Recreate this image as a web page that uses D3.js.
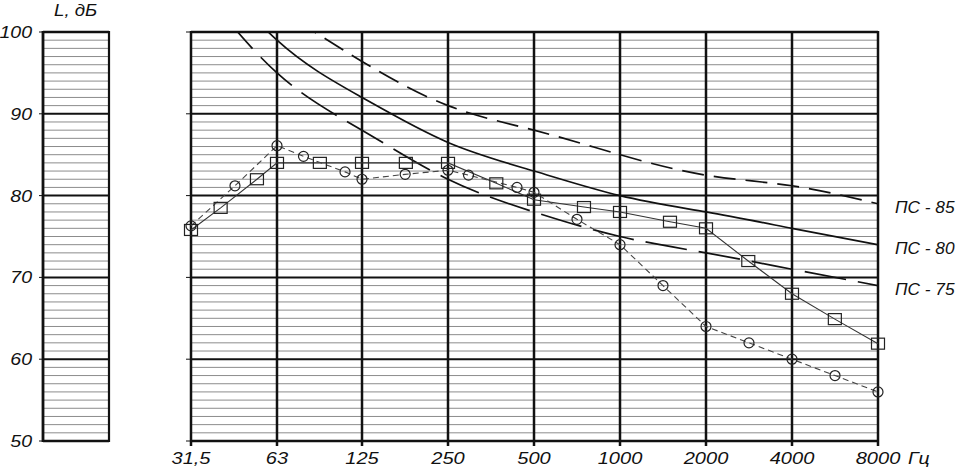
<!DOCTYPE html>
<html><head><meta charset="utf-8">
<script src="https://cdn.jsdelivr.net/npm/d3@7"></script>
<style>
html,body{margin:0;padding:0;background:#fff;}
text{font-family:"Liberation Sans",Arial,sans-serif;font-style:italic;fill:#111;}
</style></head>
<body><svg id="c" width="958" height="468"></svg>
<script>
// ---- data ----
const bandLabels = ["31,5","63","125","250","500","1000","2000","4000","8000"];
const bandFreqs  = [31.5, 63, 125, 250, 500, 1000, 2000, 4000, 8000];
const yTicks = [50, 60, 70, 80, 90, 100];

const ps75 = [107, 95, 88, 82, 78, 75, 73, 71, 69];
const ps80 = [111, 99, 92, 86.5, 83, 80, 78, 76, 74];
const ps85 = [110, 103, 96.4, 91, 88, 85, 82.5, 81.2, 79];

const squareFreqs = [31.5, 40, 53.6, 63, 89, 125, 178, 250, 369, 500, 748, 1000, 1496, 2000, 2812, 4000, 5650, 8000];
const squareVals  = [75.8, 78.5, 82, 84, 84, 84, 84, 84, 81.5, 79.5, 78.6, 78, 76.8, 76, 72, 68, 64.9, 61.9];

const circleFreqs = [31.5, 44.9, 63, 78, 109, 125, 177, 250, 295, 436, 500, 707, 1000, 1414, 2000, 2828, 4000, 5657, 8000];
const circleVals  = [76.3, 81.2, 86.1, 84.8, 82.9, 82, 82.6, 83.1, 82.5, 81, 80.4, 77.1, 74, 69, 64, 62, 60, 58, 56];

const psLabels = ["ПС - 85", "ПС - 80", "ПС - 75"];

// ---- layout ----
const svg = d3.select("#c");
const X0 = 191, X1 = 878, Y0 = 32, Y1 = 441;
const LX0 = 43, LX1 = 109;
const x = d3.scaleLog().base(2).domain([31.5, 8000]).range([X0, X1]);
const y = d3.scaleLinear().domain([50, 100]).range([Y1, Y0]);
const minor = d3.range(51, 100).filter(v => v % 10 !== 0);

function label(px, py, txt, size, anchor, sx) {
  return svg.append("text")
    .attr("transform", `translate(${px},${py}) scale(${sx},1)`)
    .attr("text-anchor", anchor).attr("font-size", size).text(txt);
}

function hgrid(xa, xb) {
  const g = svg.append("g");
  g.selectAll("line.mn").data(minor).join("line")
    .attr("x1", xa).attr("x2", xb).attr("y1", d => y(d)).attr("y2", d => y(d))
    .attr("stroke", "#8c8c8c").attr("stroke-width", 1);
  g.selectAll("line.mj").data(yTicks).join("line")
    .attr("x1", xa).attr("x2", xb).attr("y1", d => y(d)).attr("y2", d => y(d))
    .attr("stroke", "#111").attr("stroke-width", d => (d === 50 || d === 100) ? 2.5 : 2);
}
// left panel
hgrid(LX0, LX1);
svg.append("line").attr("x1", LX0).attr("x2", LX0).attr("y1", Y0 - 1).attr("y2", Y1 + 1).attr("stroke", "#111").attr("stroke-width", 2.8);
svg.append("line").attr("x1", LX1).attr("x2", LX1).attr("y1", Y0 - 1).attr("y2", Y1 + 1).attr("stroke", "#111").attr("stroke-width", 2.2);
svg.append("g").selectAll("line").data(yTicks).join("line")
  .attr("x1", LX0 - 4).attr("x2", LX0).attr("y1", d => y(d)).attr("y2", d => y(d))
  .attr("stroke", "#111").attr("stroke-width", 1);
yTicks.forEach(v => label(32, y(v) + 6, v, 17, "end", 1.15));
label(54, 16, "L, дБ", 17, "start", 1.1);

// main panel
hgrid(X0, X1);
svg.append("g").selectAll("line").data(bandFreqs).join("line")
  .attr("x1", d => x(d)).attr("x2", d => x(d)).attr("y1", Y0 - 1).attr("y2", Y1 + 5)
  .attr("stroke", "#111").attr("stroke-width", 2.5);
svg.append("g").selectAll("line").data(yTicks).join("line")
  .attr("x1", X0 - 5).attr("x2", X0).attr("y1", d => y(d)).attr("y2", d => y(d))
  .attr("stroke", "#111").attr("stroke-width", 1);
bandFreqs.forEach((f, i) => label(x(f), 464, bandLabels[i], 17, "middle", 1.18));
label(908, 464, "Гц", 17, "start", 1.15);

// clip
svg.append("clipPath").attr("id", "clip").append("rect")
  .attr("x", X0).attr("y", Y0).attr("width", X1 - X0).attr("height", Y1 - Y0);
const plot = svg.append("g").attr("clip-path", "url(#clip)");

const lineGen = d3.line().x(d => x(d[0])).y(d => y(d[1])).curve(d3.curveNatural);
const psSeries = [
  {vals: ps85, dash: "22,10"},
  {vals: ps80, dash: null},
  {vals: ps75, dash: "42,12"}
];
psSeries.forEach(s => {
  plot.append("path").datum(bandFreqs.map((f, i) => [f, s.vals[i]]))
    .attr("d", lineGen).attr("fill", "none").attr("stroke", "#111")
    .attr("stroke-width", 1.7).attr("stroke-dasharray", s.dash);
});
psLabels.forEach((t, i) => {
  const v = psSeries[i].vals[psSeries[i].vals.length - 1];
  label(895, y(v) + 9, t, 16, "start", 1.08);
});

const linLine = d3.line().x(d => x(d[0])).y(d => y(d[1]));
const sqData = squareFreqs.map((f, i) => [f, squareVals[i]]);
const ciData = circleFreqs.map((f, i) => [f, circleVals[i]]);
svg.append("path").datum(sqData).attr("d", linLine).attr("fill", "none")
  .attr("stroke", "#333").attr("stroke-width", 1.1);
svg.append("path").datum(ciData).attr("d", linLine).attr("fill", "none")
  .attr("stroke", "#444").attr("stroke-width", 1.1).attr("stroke-dasharray", "6,4");
svg.append("g").selectAll("rect").data(sqData).join("rect")
  .attr("x", d => x(d[0]) - 6.5).attr("y", d => y(d[1]) - 5.5)
  .attr("width", 13).attr("height", 11)
  .attr("fill", "none").attr("stroke", "#222").attr("stroke-width", 1.2);
svg.append("g").selectAll("circle").data(ciData).join("circle")
  .attr("cx", d => x(d[0])).attr("cy", d => y(d[1])).attr("r", 5)
  .attr("fill", "none").attr("stroke", "#222").attr("stroke-width", 1.2);
</script></body></html>
